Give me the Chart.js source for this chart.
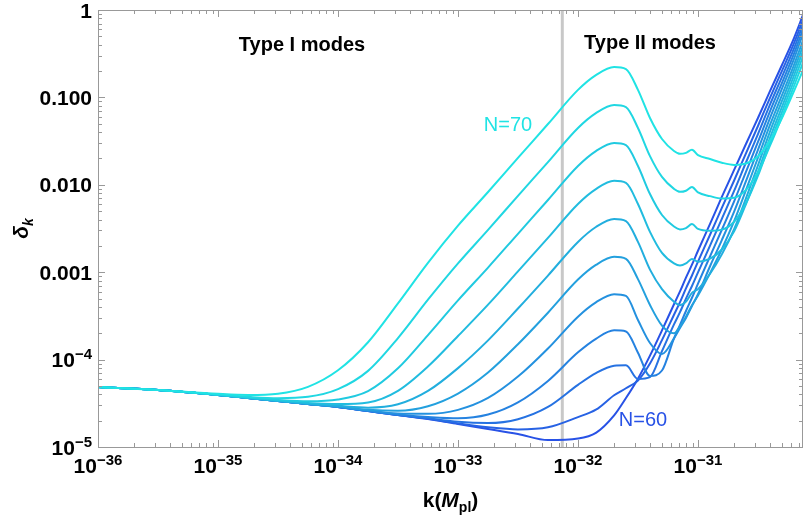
<!DOCTYPE html>
<html>
<head>
<meta charset="utf-8">
<script src="https://cdn.jsdelivr.net/npm/chart.js@4.4.0/dist/chart.umd.min.js"></script>
<style>
  body { margin: 0; background: #fff; }
  canvas { display: block; }
</style>
</head>
<body>
<canvas id="chart" width="806" height="517"></canvas>
<script>
// k grid (Planck units), shared by every curve
const kValues = [1e-36, 3.16e-36, 1e-35, 1.78e-35, 3.16e-35, 5.62e-35, 1e-34, 1.78e-34, 3.16e-34, 5.62e-34,
  1e-33, 1.78e-33, 3.16e-33, 5.62e-33, 1e-32, 1.41e-32, 2.0e-32, 2.51e-32, 3.16e-32, 3.98e-32,
  5.01e-32, 6.31e-32, 7.08e-32, 7.94e-32, 8.91e-32, 1e-31, 1.26e-31, 1.58e-31, 2.0e-31, 2.51e-31,
  3.16e-31, 3.98e-31, 5.01e-31, 6.31e-31, 7.5e-31];

// delta_k for each number of e-folds N
const delta70 = [4.86e-5, 4.49e-5, 4.06e-5, 3.94e-5, 4.07e-5, 4.88e-5, 7.55e-5, 1.58e-4, 4.40e-4, 1.28e-3,
  3.41e-3, 8.27e-3, 0.0203, 0.0496, 0.122, 0.180, 0.223, 0.211, 0.122, 0.0581,
  0.0334, 0.0244, 0.0226, 0.0232, 0.0252, 0.0218, 0.0197, 0.0179, 0.0169, 0.0175,
  0.0211, 0.0320, 0.0580, 0.118, 0.205];
const delta69 = [4.86e-5, 4.49e-5, 3.98e-5, 3.75e-5, 3.62e-5, 3.75e-5, 4.59e-5, 7.43e-5, 1.76e-4, 4.84e-4,
  1.26e-3, 3.05e-3, 7.47e-3, 0.0182, 0.0447, 0.0661, 0.0819, 0.0775, 0.0447, 0.0213,
  0.0123, 0.00899, 0.00830, 0.00855, 0.00945, 0.00817, 0.00742, 0.00696, 0.00711, 0.00874,
  0.0139, 0.0280, 0.0600, 0.135, 0.250];
const delta68 = [4.86e-5, 4.49e-5, 3.96e-5, 3.68e-5, 3.46e-5, 3.34e-5, 3.50e-5, 4.36e-5, 7.95e-5, 1.91e-4,
  4.76e-4, 1.13e-3, 2.75e-3, 6.70e-3, 0.0164, 0.0243, 0.0301, 0.0285, 0.0164, 0.00784,
  0.00451, 0.00333, 0.00309, 0.00320, 0.00355, 0.00313, 0.00298, 0.00307, 0.00378, 0.00615,
  0.0127, 0.0300, 0.0680, 0.155, 0.295];
const delta67 = [4.86e-5, 4.49e-5, 3.94e-5, 3.65e-5, 3.40e-5, 3.19e-5, 3.10e-5, 3.23e-5, 4.39e-5, 8.33e-5,
  1.86e-4, 4.25e-4, 1.02e-3, 2.47e-3, 6.04e-3, 8.93e-3, 0.0111, 0.0105, 0.00604, 0.00289,
  0.00166, 0.00126, 0.00119, 0.00126, 0.00142, 0.00132, 0.00143, 0.00182, 0.00293, 0.00602,
  0.0140, 0.0344, 0.0780, 0.178, 0.340];
const delta66 = [4.86e-5, 4.49e-5, 3.94e-5, 3.64e-5, 3.37e-5, 3.13e-5, 2.96e-5, 2.82e-5, 3.08e-5, 4.38e-5,
  7.99e-5, 1.66e-4, 3.84e-4, 9.15e-4, 2.22e-3, 3.29e-3, 4.07e-3, 3.85e-3, 2.22e-3, 1.07e-3,
  6.40e-4, 4.60e-4, 4.20e-4, 4.60e-4, 5.80e-4, 6.40e-4, 9.60e-4, 1.60e-3, 3.10e-3, 7.01e-3,
  0.0167, 0.0406, 0.0910, 0.205, 0.390];
const delta65 = [4.86e-5, 4.49e-5, 3.94e-5, 3.64e-5, 3.36e-5, 3.11e-5, 2.90e-5, 2.67e-5, 2.60e-5, 2.93e-5,
  4.09e-5, 7.12e-5, 1.50e-4, 3.44e-4, 8.23e-4, 1.21e-3, 1.50e-3, 1.42e-3, 8.33e-4, 4.21e-4,
  2.45e-4, 2.00e-4, 2.40e-4, 3.10e-4, 4.20e-4, 5.40e-4, 9.75e-4, 1.83e-3, 3.83e-3, 8.71e-3,
  0.0204, 0.0484, 0.106, 0.236, 0.450];
const delta64 = [4.86e-5, 4.49e-5, 3.94e-5, 3.64e-5, 3.36e-5, 3.10e-5, 2.88e-5, 2.61e-5, 2.42e-5, 2.40e-5,
  2.66e-5, 3.64e-5, 6.39e-5, 1.34e-4, 3.10e-4, 4.52e-4, 5.61e-4, 5.35e-4, 2.84e-4, 1.55e-4,
  1.16e-4, 1.75e-4, 2.30e-4, 3.00e-4, 4.10e-4, 5.60e-4, 1.17e-3, 2.33e-3, 4.94e-3, 0.0110,
  0.0251, 0.0578, 0.126, 0.276, 0.534];
const delta63 = [4.86e-5, 4.49e-5, 3.94e-5, 3.64e-5, 3.36e-5, 3.10e-5, 2.87e-5, 2.59e-5, 2.36e-5, 2.21e-5,
  2.13e-5, 2.35e-5, 3.24e-5, 5.70e-5, 1.21e-4, 1.73e-4, 2.16e-4, 2.10e-4, 1.20e-4, 6.50e-5,
  7.50e-5, 1.75e-4, 2.50e-4, 3.60e-4, 5.10e-4, 7.40e-4, 1.52e-3, 3.06e-3, 6.47e-3, 0.0141,
  0.0309, 0.0692, 0.147, 0.317, 0.605];
const delta62 = [4.86e-5, 4.49e-5, 3.94e-5, 3.64e-5, 3.36e-5, 3.10e-5, 2.87e-5, 2.58e-5, 2.32e-5, 2.13e-5,
  1.94e-5, 1.88e-5, 2.08e-5, 2.87e-5, 5.14e-5, 7.01e-5, 8.50e-5, 8.60e-5, 6.00e-5, 6.30e-5,
  1.25e-4, 2.53e-4, 3.49e-4, 4.98e-4, 6.95e-4, 9.96e-4, 2.01e-3, 4.08e-3, 8.51e-3, 0.0180,
  0.0381, 0.0827, 0.172, 0.363, 0.685];
const delta61 = [4.86e-5, 4.49e-5, 3.94e-5, 3.64e-5, 3.36e-5, 3.10e-5, 2.87e-5, 2.58e-5, 2.32e-5, 2.10e-5,
  1.86e-5, 1.68e-5, 1.59e-5, 1.68e-5, 2.20e-5, 2.67e-5, 3.91e-5, 4.70e-5, 5.77e-5, 9.03e-5,
  1.67e-4, 3.26e-4, 4.55e-4, 6.53e-4, 9.16e-4, 1.32e-3, 2.68e-3, 5.44e-3, 0.0112, 0.0229,
  0.0471, 0.0990, 0.201, 0.417, 0.775];
const delta60 = [4.86e-5, 4.49e-5, 3.94e-5, 3.64e-5, 3.36e-5, 3.10e-5, 2.87e-5, 2.58e-5, 2.32e-5, 2.09e-5,
  1.83e-5, 1.61e-5, 1.41e-5, 1.20e-5, 1.25e-5, 1.45e-5, 2.30e-5, 3.63e-5, 6.05e-5, 1.11e-4,
  2.16e-4, 4.30e-4, 6.02e-4, 8.67e-4, 1.22e-3, 1.76e-3, 3.57e-3, 7.26e-3, 0.0148, 0.0293,
  0.0581, 0.118, 0.235, 0.478, 0.877];

const efolds = [70, 69, 68, 67, 66, 65, 64, 63, 62, 61, 60];
const curves = [delta70, delta69, delta68, delta67, delta66, delta65, delta64, delta63, delta62, delta61, delta60];
const lineColors = ["#20e3e4", "#20d7e2", "#20cae0", "#21bcdf", "#22aede", "#23a0de",
  "#2491df", "#2582e0", "#2672e2", "#2762e4", "#2852e6"];

// boundary between type I and type II modes
const boundaryK = 7.4e-33;

// axis ticks
const xTickValues = [1e-36, 1e-35, 1e-34, 1e-33, 1e-32, 1e-31];
const xTickLabels = [["10", "\u221236"], ["10", "\u221235"], ["10", "\u221234"], ["10", "\u221233"], ["10", "\u221232"], ["10", "\u221231"]];
const yTickValues = [1, 0.1, 0.01, 0.001, 1e-4, 1e-5];
const yTickLabels = [["1", ""], ["0.100", ""], ["0.010", ""], ["0.001", ""], ["10", "\u22124"], ["10", "\u22125"]];

const FAM = '"Liberation Sans", Arial, sans-serif';

const datasets = curves.map((arr, i) => ({
  label: "N=" + efolds[i],
  data: kValues.map((k, j) => ({ x: k, y: arr[j] })),
  borderColor: lineColors[i],
  borderWidth: 2,
  pointRadius: 0,
  fill: false,
  cubicInterpolationMode: "monotone",
}));
datasets.push({
  label: "boundary",
  data: [{ x: boundaryK, y: 1e-5 }, { x: boundaryK, y: 1 }],
  borderColor: "#c8c8c8",
  borderWidth: 3,
  pointRadius: 0,
  order: 20,
});

function drawPower(ctx, base, exp, x, y, align) {
  ctx.font = "bold 21px " + FAM;
  const wb = ctx.measureText(base).width;
  ctx.font = "bold 15px " + FAM;
  const we = exp ? ctx.measureText(exp).width : 0;
  const left = align === "center" ? x - (wb + we) / 2 : x - wb - we;
  ctx.textAlign = "left";
  ctx.textBaseline = "alphabetic";
  ctx.font = "bold 21px " + FAM;
  ctx.fillText(base, left, y);
  if (exp) {
    ctx.font = "bold 15px " + FAM;
    ctx.fillText(exp, left + wb, y - 8);
  }
}

function drawParts(ctx, parts, cx, y) {
  let w = 0;
  parts.forEach(p => { ctx.font = p.f; w += ctx.measureText(p.t).width; });
  let x = cx - w / 2;
  ctx.textAlign = "left";
  ctx.textBaseline = "alphabetic";
  parts.forEach(p => {
    ctx.font = p.f;
    ctx.fillText(p.t, x, y + (p.dy || 0));
    x += ctx.measureText(p.t).width;
  });
}

const framePlugin = {
  id: "frame",
  afterDraw(chart) {
    const { ctx, chartArea: a, scales: { x, y } } = chart;
    ctx.save();
    ctx.strokeStyle = "#999999";
    ctx.lineWidth = 1;
    ctx.strokeRect(a.left + 0.5, a.top + 0.5, a.right - a.left - 1, a.bottom - a.top);

    // log ticks on all four sides, pointing inward
    ctx.beginPath();
    for (let e = -36; e <= -31; e++) {
      for (let m = 1; m <= 9; m++) {
        const v = m * Math.pow(10, e);
        if (v > x.max) break;
        const px = Math.round(x.getPixelForValue(v)) + 0.5;
        const len = m === 1 ? 7 : 4;
        ctx.moveTo(px, a.bottom); ctx.lineTo(px, a.bottom - len);
        ctx.moveTo(px, a.top); ctx.lineTo(px, a.top + len);
      }
    }
    for (let e = -5; e <= 0; e++) {
      for (let m = 1; m <= 9; m++) {
        const v = m * Math.pow(10, e);
        if (v > 1.0001) break;
        const py = Math.round(y.getPixelForValue(v)) + 0.5;
        const len = m === 1 ? 7 : 4;
        ctx.moveTo(a.left, py); ctx.lineTo(a.left + len, py);
        ctx.moveTo(a.right, py); ctx.lineTo(a.right - len, py);
      }
    }
    ctx.stroke();

    ctx.fillStyle = "#000";
    xTickValues.forEach((v, i) => {
      drawPower(ctx, xTickLabels[i][0], xTickLabels[i][1], x.getPixelForValue(v), 473, "center");
    });
    yTickValues.forEach((v, i) => {
      drawPower(ctx, yTickLabels[i][0], yTickLabels[i][1], 92, y.getPixelForValue(v) + 7.5, "right");
    });

    // axis titles
    drawParts(ctx, [
      { t: "k(", f: "bold 21px " + FAM },
      { t: "M", f: "italic bold 21px " + FAM },
      { t: "pl", f: "bold 14px " + FAM, dy: 5 },
      { t: ")", f: "bold 21px " + FAM },
    ], (a.left + a.right) / 2, 507);

    ctx.save();
    ctx.translate(22, (a.top + a.bottom) / 2);
    ctx.rotate(-Math.PI / 2);
    drawParts(ctx, [
      { t: "\u03b4", f: "italic bold 21px " + FAM },
      { t: "k", f: "italic bold 14px " + FAM, dy: 5 },
    ], 0, 6);
    ctx.restore();

    // annotations
    ctx.textAlign = "center";
    ctx.textBaseline = "middle";
    ctx.font = "bold 20px " + FAM;
    ctx.fillText("Type I modes", 302, 45);
    ctx.fillText("Type II modes", 650, 43);
    ctx.font = "20px " + FAM;
    ctx.fillStyle = lineColors[0];
    ctx.fillText("N=70", 508, 125);
    ctx.fillStyle = lineColors[10];
    ctx.fillText("N=60", 643, 420);
    ctx.restore();
  },
};

new Chart(document.getElementById("chart"), {
  type: "line",
  data: { datasets },
  options: {
    responsive: false,
    animation: false,
    layout: { padding: { left: 98, right: 3, top: 10, bottom: 70 } },
    plugins: { legend: { display: false }, tooltip: { enabled: false } },
    scales: {
      x: { type: "logarithmic", min: 1e-36, max: 7.5e-31, display: false },
      y: { type: "logarithmic", min: 1e-5, max: 1, display: false },
    },
  },
  plugins: [framePlugin],
});
</script>
</body>
</html>
